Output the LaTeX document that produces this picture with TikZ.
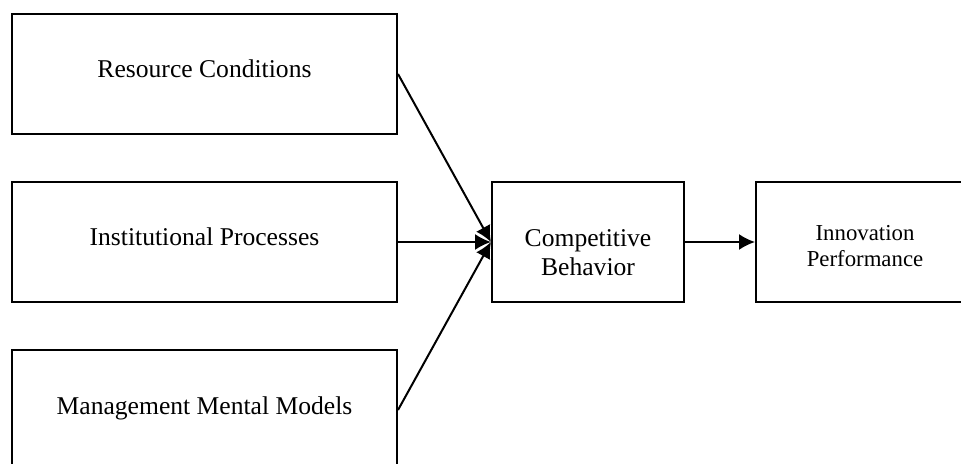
\documentclass[tikz,border=0pt]{standalone}
\usepackage{fontspec}
\setmainfont{Liberation Serif}
\usetikzlibrary{arrows.meta,positioning}

\tikzset{
  box/.style={draw, line width=1pt, inner sep=0pt, minimum height=60pt,
    align=center, font=\fontsize{12.8}{14.2}\selectfont},
  factor/.style={box, minimum width=192.5pt, text height=8.5pt, text depth=4.5pt},
  outcome/.style={box, minimum width=96pt, text height=33pt, text depth=0pt},
  result/.style={box, minimum width=109pt, text height=24.5pt, text depth=0pt,
    font=\fontsize{11.4}{13}\selectfont}
}

\begin{document}
\begin{tikzpicture}[x=0.5pt, y=-0.5pt, >={Latex[length=8pt,width=8pt]}, line width=1pt]
	%\draw [help lines] (0,0) grid (961,464);
	\clip (0,0) rectangle (961,464);
	\node [factor] (res) at (204.5,74) {Resource Conditions};
	\node [factor] (inst) at (204.5,242) {Institutional Processes};
	\node [factor] (mgmt) at (204.5,410) {Management Mental Models};
	\node [outcome] (comp) at (588,242) {Competitive\\Behavior};
	\node [result] (innov) at (865,242) {Innovation\\Performance};
	\draw [->] (res.east) -- (comp.west);
	\draw [->] (inst) -- (comp);
	\draw [->] (mgmt.east) -- (comp.west);
	\draw [->] (comp) -- (innov);
\end{tikzpicture}
\end{document}
